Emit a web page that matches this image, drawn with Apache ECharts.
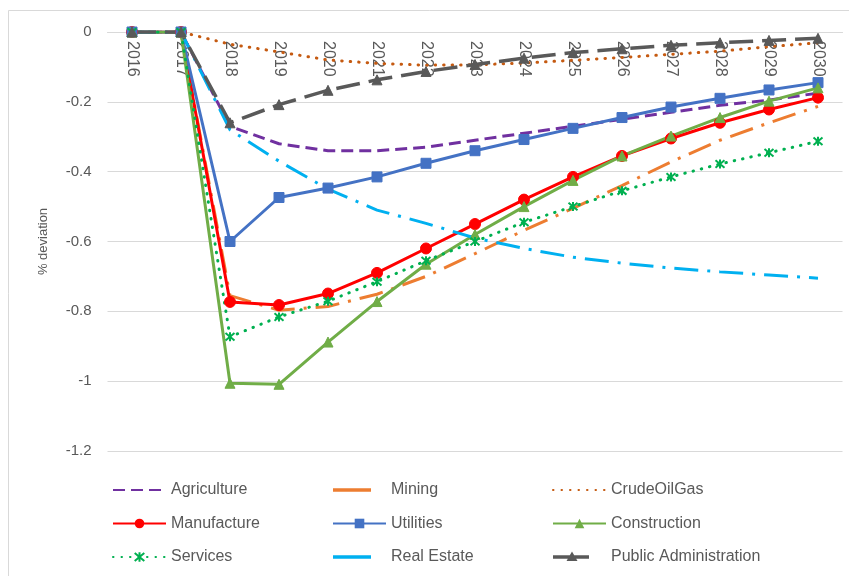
<!DOCTYPE html>
<html>
<head>
<meta charset="utf-8">
<script src="https://cdn.jsdelivr.net/npm/echarts@6/dist/echarts.min.js"></script>
<style>
html,body{margin:0;padding:0;background:#fff;}
#chart{width:849px;height:576px;}
</style>
</head>
<body>
<div id="chart"></div>
<script>
var years = ['2016','2017','2018','2019','2020','2021','2022','2023','2024','2025','2026','2027','2028','2029','2030'];
var yTicks = [0,-0.2,-0.4,-0.6,-0.8,-1,-1.2];

var agriculture   = [0,0,-0.27,-0.32,-0.34,-0.34,-0.33,-0.31,-0.29,-0.27,-0.25,-0.23,-0.21,-0.195,-0.175];
var mining        = [0,0,-0.755,-0.797,-0.786,-0.751,-0.70,-0.635,-0.568,-0.505,-0.44,-0.372,-0.31,-0.26,-0.213];
var crudeOilGas   = [0,0,-0.035,-0.057,-0.08,-0.09,-0.095,-0.094,-0.089,-0.081,-0.073,-0.064,-0.055,-0.042,-0.031];
var manufacture   = [0,0,-0.773,-0.782,-0.749,-0.69,-0.62,-0.55,-0.48,-0.415,-0.355,-0.305,-0.26,-0.222,-0.188];
var utilities     = [0,0,-0.6,-0.474,-0.447,-0.415,-0.376,-0.34,-0.308,-0.276,-0.245,-0.215,-0.19,-0.166,-0.145];
var construction  = [0,0,-1.006,-1.009,-0.888,-0.772,-0.665,-0.58,-0.5,-0.425,-0.355,-0.298,-0.245,-0.198,-0.16];
var services      = [0,0,-0.873,-0.816,-0.771,-0.715,-0.655,-0.6,-0.545,-0.5,-0.455,-0.415,-0.378,-0.346,-0.313];
var realEstate    = [0,0,-0.28,-0.37,-0.45,-0.51,-0.548,-0.59,-0.62,-0.645,-0.662,-0.676,-0.687,-0.696,-0.705];
var publicAdmin   = [0,0,-0.26,-0.208,-0.167,-0.137,-0.113,-0.093,-0.075,-0.059,-0.048,-0.038,-0.031,-0.024,-0.018];

var FONT = 'Liberation Sans, Arial, sans-serif';
var TXT = '#595959';
var asterisk = 'path://M0,0L10,10M10,0L0,10M5,-1L5,11';
var bounds = 'M52.999,0h0.001v0.001h-0.001zM52.999,11.999h0.001v0.001h-0.001z';
var shortBar = 'path://M0,4.25h38v3.5h-38z' + bounds;
var shortBarTri = 'path://M0,4.25h36v3.5h-36zM19,0.5L24.5,10H13.5z' + bounds;

function mk(name, data, color, width, dash, symbol, size, extra) {
  var s = {
    name: name, type: 'line', data: data,
    lineStyle: {color: color, width: width, type: dash || 'solid', cap: dash && dash[0] < 2 ? 'round' : 'butt'},
    itemStyle: {color: color, borderColor: color},
    symbol: symbol || 'none',
    symbolSize: size || 0,
    showSymbol: !!symbol,
    emphasis: {disabled: true},
    animation: false
  };
  if (extra) Object.assign(s, extra);
  return s;
}

var series = [
  mk('Agriculture', agriculture, '#7030A0', 3, [12,6]),
  mk('Mining', mining, '#ED7D31', 3, [24,9,3,9]),
  mk('CrudeOilGas', crudeOilGas, '#C55A11', 3, [0.5,8]),
  mk('Manufacture', manufacture, '#FF0000', 3, null, 'circle', 11),
  mk('Utilities', utilities, '#4472C4', 3, null, 'rect', 10),
  mk('Construction', construction, '#70AD47', 3, null, 'triangle', 10),
  mk('Services', services, '#00B050', 3, [0.5,8], asterisk, 9,
     {itemStyle: {color: 'none', borderColor: '#00B050', borderWidth: 2}}),
  mk('Real Estate', realEstate, '#00B0F0', 3, [24,9,3,9]),
  mk('Public Administration', publicAdmin, '#595959', 3.5, [24,9], 'triangle', 10)
];

function noMark(name) { return {name: name, itemStyle: {opacity: 0}}; }
function bar(name, color, icon) { return {name: name, icon: icon || shortBar, itemStyle: {color: color, opacity: 1, borderWidth: 0}}; }

function legendCol(left, items) {
  return {
    orient: 'vertical', left: left, top: 480, padding: 0,
    itemWidth: 53, itemHeight: 12, itemGap: 13.5,
    textStyle: {color: TXT, fontSize: 16, fontFamily: FONT, lineHeight: 20},
    data: items, selectedMode: false
  };
}

var chart = echarts.init(document.getElementById('chart'), null, {renderer: 'canvas'});
chart.setOption({
  backgroundColor: '#fff',
  animation: false,
  graphic: [{type: 'rect', shape: {x: 8.5, y: 10.5, width: 900, height: 700}, style: {fill: 'none', stroke: '#d9d9d9', lineWidth: 1}, silent: true, z: -10}],
  grid: {left: 107.5, right: 6.5, top: 32, height: 419, containLabel: false},
  xAxis: {
    type: 'category', data: years, boundaryGap: true, position: 'top',
    axisLine: {show: true, onZero: false, lineStyle: {color: '#d9d9d9', width: 1}},
    axisTick: {show: false},
    axisLabel: {inside: true, rotate: 90, margin: 9, color: TXT, fontSize: 16, fontFamily: FONT, interval: 0}
  },
  yAxis: {
    type: 'value', min: -1.2, max: 0, interval: 0.2,
    name: '% deviation', nameLocation: 'middle', nameGap: 58, nameRotate: 90,
    nameTextStyle: {color: TXT, fontSize: 13, fontFamily: FONT},
    axisLine: {show: false}, axisTick: {show: false},
    axisLabel: {color: TXT, fontSize: 15, fontFamily: FONT, margin: 16,
      formatter: function(v){ var r = Math.round(v*10)/10; for (var i=0;i<yTicks.length;i++){ if (Math.abs(yTicks[i]-r)<1e-9) return String(yTicks[i]); } return String(r); }},
    splitLine: {show: true, lineStyle: {color: '#d9d9d9', width: 1}}
  },
  legend: [
    legendCol(112, [noMark('Agriculture'), 'Manufacture', 'Services']),
    legendCol(332, [bar('Mining', '#ED7D31'), 'Utilities', bar('Real Estate', '#00B0F0')]),
    legendCol(552, [noMark('CrudeOilGas'), 'Construction', bar('Public Administration', '#595959', shortBarTri)])
  ],
  series: series
});
</script>
</body>
</html>
